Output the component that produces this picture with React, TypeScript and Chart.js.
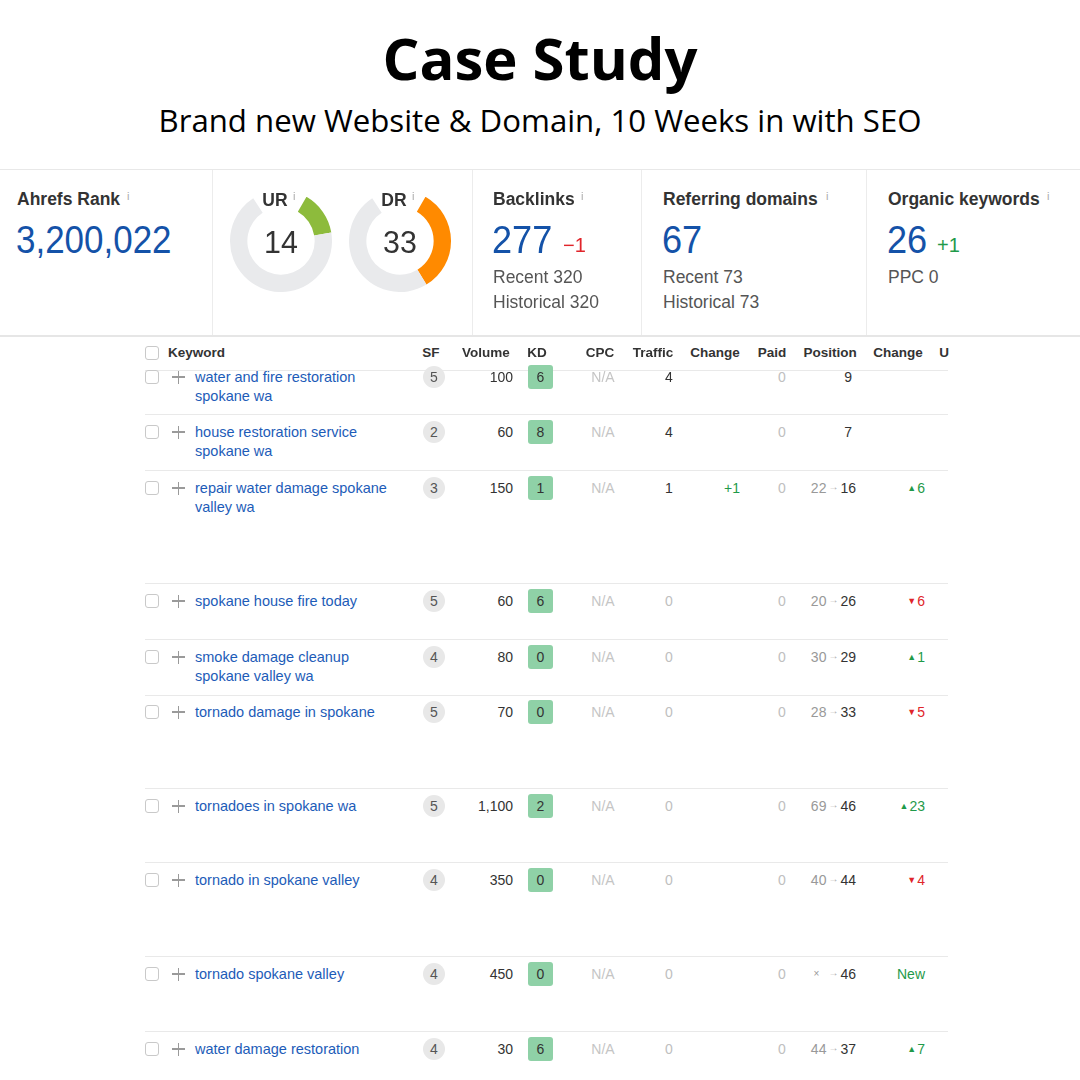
import React, { useEffect, useRef } from "react";
import { Chart, registerables } from "chart.js";

Chart.register(...registerables);

// ---------- data ----------
const gaugeLabels = ["UR", "DR"];
const gaugeValues = [14, 33];
const gaugeColors = ["#8dbb3c", "#ff8a00"];
const gaugeHiddenPct = 17.5; // part of the ring hidden under the label

const keywords = [
  "water and fire restoration\nspokane wa",
  "house restoration service\nspokane wa",
  "repair water damage spokane\nvalley wa",
  "spokane house fire today",
  "smoke damage cleanup\nspokane valley wa",
  "tornado damage in spokane",
  "tornadoes in spokane wa",
  "tornado in spokane valley",
  "tornado spokane valley",
  "water damage restoration",
];
const sfValues = [5, 2, 3, 5, 4, 5, 5, 4, 4, 4];
const volumes = ["100", "60", "150", "60", "80", "70", "1,100", "350", "450", "30"];
const kdValues = [6, 8, 1, 6, 0, 0, 2, 0, 0, 6];
const trafficValues = [4, 4, 1, 0, 0, 0, 0, 0, 0, 0];
const trafficChanges = ["", "", "+1", "", "", "", "", "", "", ""];
const paidValues = [0, 0, 0, 0, 0, 0, 0, 0, 0, 0];
const positionFrom = ["", "", "22", "20", "30", "28", "69", "40", "×", "44"];
const positionTo = ["9", "7", "16", "26", "29", "33", "46", "44", "46", "37"];
const positionChanges = ["", "", "▲6", "▼6", "▲1", "▼5", "▲23", "▼4", "New", "▲7"];
const headers = ["SF", "Volume", "KD", "CPC", "Traffic", "Change", "Paid", "Position", "Change", "U"];

// ---------- layout ----------
const rowTextY = [377, 432, 488, 601, 657, 712, 806, 880, 974, 1049];
const rowLineY = [370, 414, 470, 583, 639, 695, 788, 862, 956, 1031];
const headerX = [431, 486, 537, 600, 653, 715, 772, 830, 898, 944];

const UI = '"Liberation Sans", Arial, sans-serif';
const BLUE = "#1452a8";
const GREEN = "#1f9a4a";
const RED = "#e0252b";

type TProps = {
  x: number;
  y: number;
  align?: "left" | "center" | "right";
  sx?: number;
  style?: React.CSSProperties;
  children: React.ReactNode;
};

function T({ x, y, align = "left", sx = 1, style, children }: TProps) {
  const base: React.CSSProperties = {
    position: "absolute",
    top: y,
    whiteSpace: "pre",
    fontFamily: UI,
    lineHeight: 1,
    ...style,
  };
  const scale = sx !== 1 ? ` scaleX(${sx})` : "";
  if (align === "left") {
    base.left = x;
    base.transform = "translateY(-50%)" + scale;
    base.transformOrigin = "left center";
  } else if (align === "center") {
    base.left = x;
    base.transform = "translate(-50%, -50%)" + scale;
  } else {
    base.right = 1080 - x;
    base.transform = "translateY(-50%)" + scale;
    base.transformOrigin = "right center";
  }
  return <div style={base}>{children}</div>;
}

function Info({ x, y }: { x: number; y: number }) {
  return (
    <T x={x} y={y} style={{ fontSize: 11, color: "#aaa" }}>
      i
    </T>
  );
}

function Gauge({ idx, cx, cy }: { idx: number; cx: number; cy: number }) {
  const ref = useRef<HTMLCanvasElement>(null);
  useEffect(() => {
    const v = gaugeValues[idx];
    const chart = new Chart(ref.current!, {
      type: "doughnut",
      data: {
        labels: [gaugeLabels[idx], "rest", "hidden"],
        datasets: [
          {
            data: [v, 100 - v - gaugeHiddenPct, gaugeHiddenPct],
            backgroundColor: [gaugeColors[idx], "#e9eaec", "rgba(0,0,0,0)"],
            borderWidth: 0,
          },
        ],
      },
      options: {
        responsive: false,
        animation: false,
        cutout: "66%",
        rotation: 30,
        circumference: 360,
        events: [],
        layout: { padding: 0 },
        plugins: { legend: { display: false }, tooltip: { enabled: false } },
      },
    });
    return () => chart.destroy();
  }, [idx]);
  return (
    <>
      <canvas
        ref={ref}
        width={102}
        height={102}
        style={{ position: "absolute", left: cx - 51, top: cy - 51, width: 102, height: 102 }}
      />
      <T x={cx} y={cy + 1} align="center" sx={0.95} style={{ fontSize: 32, color: "#333" }}>
        {String(gaugeValues[idx])}
      </T>
      <T x={cx - 6} y={cy - 40} align="center" style={{ fontSize: 17.5, fontWeight: 700, color: "#333" }}>
        {gaugeLabels[idx]}
      </T>
      <Info x={cx + 12} y={cy - 45} />
    </>
  );
}

function Row({ i }: { i: number }) {
  const y = rowTextY[i];
  const tr = trafficValues[i];
  const ch = positionChanges[i];
  const isUp = ch.startsWith("▲");
  const isDown = ch.startsWith("▼");
  const isX = positionFrom[i] === "×";
  return (
    <>
      <div
        style={{
          position: "absolute",
          left: 145,
          top: y - 7,
          width: 14,
          height: 14,
          border: "1px solid #c9c9c9",
          borderRadius: 3,
          boxSizing: "border-box",
          background: "#fff",
        }}
      />
      <div style={{ position: "absolute", left: 172, top: y - 0.75, width: 13, height: 1.5, background: "#9a9a9a" }} />
      <div style={{ position: "absolute", left: 177.75, top: y - 6.5, width: 1.5, height: 13, background: "#9a9a9a" }} />
      <div
        style={{
          position: "absolute",
          left: 195,
          top: y - 9.5,
          fontFamily: UI,
          fontSize: 14.5,
          lineHeight: "19px",
          color: "#1d5cb8",
          whiteSpace: "pre-line",
        }}
      >
        {keywords[i]}
      </div>
      <div
        style={{
          position: "absolute",
          left: 423,
          top: y - 11,
          width: 22,
          height: 22,
          borderRadius: 11,
          background: "#e8e8e8",
        }}
      />
      <T x={434} y={y} align="center" style={{ fontSize: 14, color: "#555" }}>
        {String(sfValues[i])}
      </T>
      <T x={513} y={y} align="right" style={{ fontSize: 14, color: "#333" }}>
        {volumes[i]}
      </T>
      <div
        style={{
          position: "absolute",
          left: 528,
          top: y - 12,
          width: 25,
          height: 24,
          borderRadius: 3,
          background: "#8fd1a7",
        }}
      />
      <T x={540.5} y={y} align="center" style={{ fontSize: 14, color: "#333" }}>
        {String(kdValues[i])}
      </T>
      <T x={603} y={y} align="center" style={{ fontSize: 14, color: "#c5c5c5" }}>
        N/A
      </T>
      <T x={669} y={y} align="center" style={{ fontSize: 14, color: tr > 0 ? "#333" : "#c0c0c0" }}>
        {String(tr)}
      </T>
      <T x={732} y={y} align="center" style={{ fontSize: 14, color: GREEN }}>
        {trafficChanges[i]}
      </T>
      <T x={782} y={y} align="center" style={{ fontSize: 14, color: "#c0c0c0" }}>
        {String(paidValues[i])}
      </T>
      <T x={856} y={y} align="right" style={{ fontSize: 14, color: "#333" }}>
        {positionFrom[i] === "" ? (
          <span style={{ paddingRight: 4 }}>{positionTo[i]}</span>
        ) : (
          <>
            <span style={{ color: "#999", fontSize: isX ? 10 : 14, display: "inline-block", verticalAlign: "middle" }}>
              {positionFrom[i]}
            </span>
            <span
              style={{
                color: "#aaa",
                fontSize: 10,
                display: "inline-block",
                verticalAlign: "middle",
                margin: isX ? "0 2px 0 9px" : "0 2px",
                transform: "translateY(-1px)",
              }}
            >
              →
            </span>
            <span style={{ display: "inline-block", verticalAlign: "middle" }}>{positionTo[i]}</span>
          </>
        )}
      </T>
      <T x={925} y={y} align="right" style={{ fontSize: 14, color: isDown ? RED : GREEN }}>
        {isUp || isDown ? (
          <>
            <span style={{ fontSize: 9, display: "inline-block", verticalAlign: "middle", marginRight: 1 }}>{ch[0]}</span>
            <span style={{ display: "inline-block", verticalAlign: "middle" }}>{ch.slice(1)}</span>
          </>
        ) : (
          ch
        )}
      </T>
    </>
  );
}

export default function App() {
  return (
    <div
      style={{
        position: "absolute",
        left: 0,
        top: 0,
        width: 1080,
        height: 1080,
        background: "#fff",
        overflow: "hidden",
      }}
    >
      {/* title */}
      <T x={540} y={58} align="center" style={{ fontFamily: '"Open Sans", sans-serif', fontWeight: 700, fontSize: 58, color: "#000" }}>
        Case Study
      </T>
      <T x={540} y={121} align="center" style={{ fontFamily: '"Open Sans", sans-serif', fontSize: 31.2, color: "#000" }}>
        Brand new Website &amp; Domain, 10 Weeks in with SEO
      </T>

      {/* stats panel */}
      <div style={{ position: "absolute", left: 0, top: 169, width: 1080, height: 1, background: "#e8e8e8" }} />
      <div style={{ position: "absolute", left: 0, top: 335, width: 1080, height: 2, background: "#e6e6e6" }} />
      {[212, 472, 641, 866].map((x) => (
        <div key={x} style={{ position: "absolute", left: x, top: 170, width: 1, height: 165, background: "#ececec" }} />
      ))}

      <T x={17} y={200} style={{ fontSize: 17.5, fontWeight: 700, color: "#333" }}>Ahrefs Rank</T>
      <Info x={127} y={196} />
      <T x={16} y={240} sx={0.92} style={{ fontSize: 38, color: BLUE }}>3,200,022</T>

      <Gauge idx={0} cx={281} cy={241} />
      <Gauge idx={1} cx={400} cy={241} />

      <T x={493} y={200} style={{ fontSize: 17.5, fontWeight: 700, color: "#333" }}>Backlinks</T>
      <Info x={581} y={196} />
      <T x={492} y={240} sx={0.95} style={{ fontSize: 38, color: BLUE }}>277</T>
      <T x={563} y={245} style={{ fontSize: 20, color: RED }}>−1</T>
      <T x={493} y={278} style={{ fontSize: 17.5, color: "#555" }}>Recent 320</T>
      <T x={493} y={303} style={{ fontSize: 17.5, color: "#555" }}>Historical 320</T>

      <T x={663} y={200} style={{ fontSize: 17.5, fontWeight: 700, color: "#333" }}>Referring domains</T>
      <Info x={826} y={196} />
      <T x={662} y={240} sx={0.95} style={{ fontSize: 38, color: BLUE }}>67</T>
      <T x={663} y={278} style={{ fontSize: 17.5, color: "#555" }}>Recent 73</T>
      <T x={663} y={303} style={{ fontSize: 17.5, color: "#555" }}>Historical 73</T>

      <T x={888} y={200} style={{ fontSize: 17.5, fontWeight: 700, color: "#333" }}>Organic keywords</T>
      <Info x={1047} y={196} />
      <T x={887} y={240} sx={0.95} style={{ fontSize: 38, color: BLUE }}>26</T>
      <T x={937} y={245} style={{ fontSize: 20, color: GREEN }}>+1</T>
      <T x={888} y={278} style={{ fontSize: 17.5, color: "#555" }}>PPC 0</T>

      {/* table header */}
      <div
        style={{
          position: "absolute",
          left: 145,
          top: 346,
          width: 14,
          height: 14,
          border: "1px solid #c9c9c9",
          borderRadius: 3,
          boxSizing: "border-box",
        }}
      />
      <T x={168} y={353} style={{ fontSize: 13.5, fontWeight: 700, color: "#333" }}>Keyword</T>
      {headers.map((h, k) => (
        <T key={k} x={headerX[k]} y={353} align="center" style={{ fontSize: 13.5, fontWeight: 700, color: "#333" }}>
          {h}
        </T>
      ))}

      {/* rows */}
      {rowLineY.map((ly, k) => (
        <div key={"l" + k} style={{ position: "absolute", left: 145, top: ly, width: 803, height: 1, background: "#e9e9e9" }} />
      ))}
      {keywords.map((_, i) => (
        <Row key={i} i={i} />
      ))}
    </div>
  );
}
